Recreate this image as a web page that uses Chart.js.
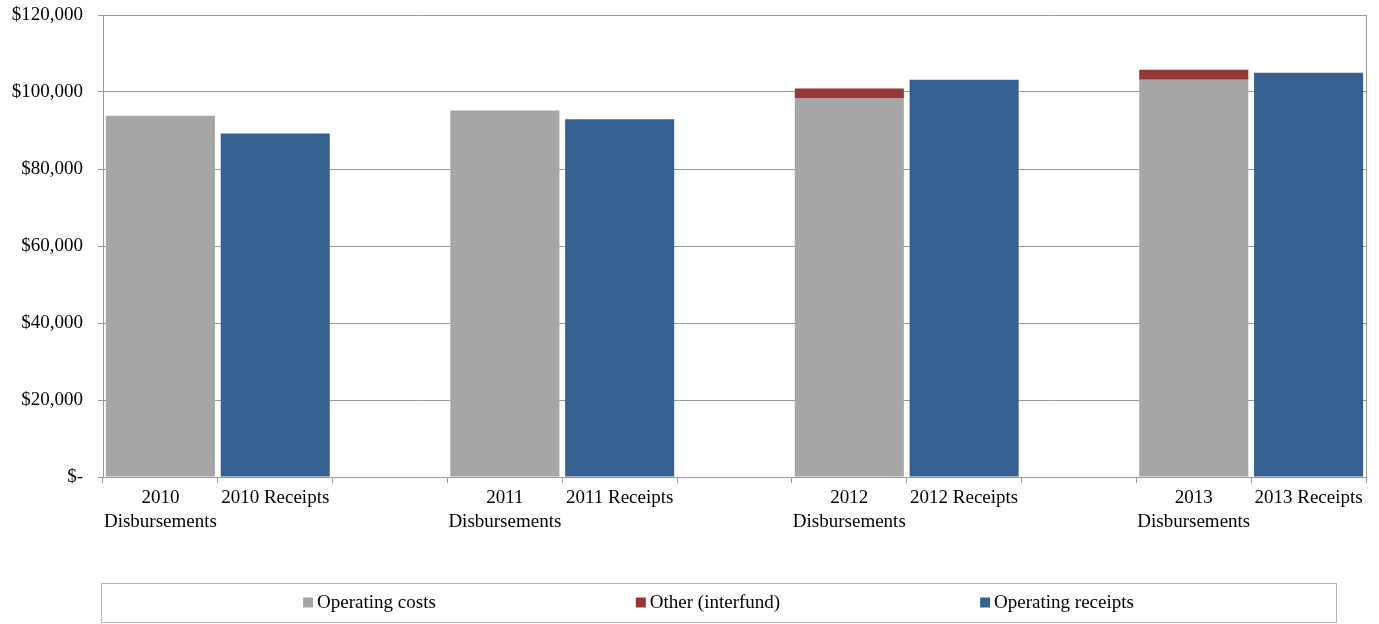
<!DOCTYPE html>
<html>
<head>
<meta charset="utf-8">
<script src="https://cdn.jsdelivr.net/npm/chart.js@4"></script>
<style>
html, body { margin: 0; padding: 0; background: #fff; }
#wrap { width: 1379px; height: 624px; position: relative; }
</style>
</head>
<body>
<div id="wrap"><canvas id="chart"></canvas></div>
<script>
// categories: one blank slot between each year group
const categories = [
    ['2010', 'Disbursements'], '2010 Receipts', '',
    ['2011', 'Disbursements'], '2011 Receipts', '',
    ['2012', 'Disbursements'], '2012 Receipts', '',
    ['2013', 'Disbursements'], '2013 Receipts'
];
const operatingCosts    = [93800, null, null, 95200, null, null, 98300, null, null, 103200, null];
const otherInterfund    = [null, null, null, null, null, null, 2600, null, null, 2600, null];
const operatingReceipts = [null, 89200, null, null, 92900, null, null, 103200, null, null, 105000];
const yMax = 120000;
const yStep = 20000;

const FONT_FAMILY = "'Liberation Serif', 'Times New Roman', serif";
const FONT_SIZE = 19;
const GRID = '#999999';

function money(v) {
    if (v === 0) return '$-';
    return '$' + v.toLocaleString('en-US');
}

// framed legend drawn under the plot, plus the right edge of the plot area
const boxLegend = {
    id: 'boxLegend',
    afterDraw(chart) {
        const ctx = chart.ctx;
        const area = chart.chartArea;
        ctx.save();
        ctx.strokeStyle = GRID;
        ctx.lineWidth = 1;
        ctx.beginPath();
        ctx.moveTo(Math.round(area.right) + 0.5, area.top);
        ctx.lineTo(Math.round(area.right) + 0.5, area.bottom);
        ctx.stroke();

        const left = area.left - 2;
        const right = chart.width - 43;
        const top = chart.height - 41;
        const bottom = chart.height - 2;
        ctx.strokeStyle = '#b4b4b4';
        ctx.strokeRect(left + 0.5, top + 0.5, right - left, bottom - top);

        ctx.font = FONT_SIZE + 'px ' + FONT_FAMILY;
        const items = chart.data.datasets.map((ds) => ({
            text: ds.label,
            color: ds.backgroundColor,
            w: 14 + ctx.measureText(ds.label).width
        }));
        const gap = 200;
        const total = items.reduce((s, it) => s + it.w, 0) + gap * (items.length - 1);
        let x = (left + right) / 2 - total / 2;
        const cy = (top + bottom) / 2;
        ctx.textBaseline = 'middle';
        items.forEach((it) => {
            ctx.fillStyle = it.color;
            ctx.fillRect(x, cy - 5, 10, 10);
            ctx.fillStyle = '#000';
            ctx.fillText(it.text, x + 14, cy + 1);
            x += it.w + gap;
        });
        ctx.restore();
    }
};

new Chart(document.getElementById('chart'), {
    type: 'bar',
    data: {
        labels: categories,
        datasets: [
            { label: 'Operating costs', data: operatingCosts, backgroundColor: '#a6a6a6', stack: 's' },
            { label: 'Other (interfund)', data: otherInterfund, backgroundColor: '#953735', stack: 's' },
            { label: 'Operating receipts', data: operatingReceipts, backgroundColor: '#366092', stack: 's' }
        ]
    },
    options: {
        responsive: true,
        maintainAspectRatio: false,
        animation: false,
        datasets: { bar: { categoryPercentage: 1, barPercentage: 0.95, borderWidth: 0 } },
        layout: { padding: { top: 15, right: 13, left: 0, bottom: 0 } },
        plugins: { legend: { display: false }, tooltip: { enabled: false } },
        scales: {
            x: {
                stacked: true,
                grid: { offset: true, drawOnChartArea: false, drawTicks: true, tickLength: 6, color: GRID },
                border: { color: GRID },
                ticks: {
                    color: '#000',
                    padding: 3,
                    maxRotation: 0,
                    autoSkip: false,
                    font: { family: FONT_FAMILY, size: FONT_SIZE, lineHeight: 1.25 }
                },
                afterFit(scale) { scale.height = 147; }
            },
            y: {
                stacked: true,
                min: 0,
                max: yMax,
                grid: { color: GRID, tickLength: 5 },
                border: { color: GRID },
                ticks: {
                    stepSize: yStep,
                    color: '#000',
                    padding: 15,
                    font: { family: FONT_FAMILY, size: FONT_SIZE },
                    callback: money
                },
                afterFit(scale) {
                    scale.width = 103;
                    scale.paddingTop = 0;
                    scale.paddingBottom = 0;
                }
            }
        }
    },
    plugins: [boxLegend]
});
</script>
</body>
</html>
